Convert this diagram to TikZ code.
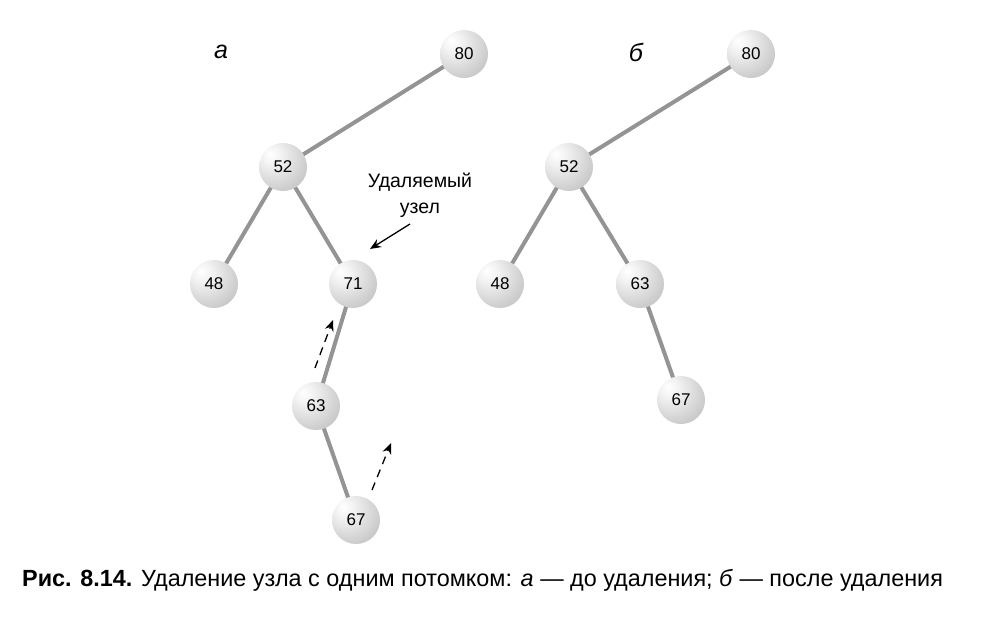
\documentclass[tikz,border=0pt]{standalone}
\usepackage{fontspec}
\setmainfont{Liberation Sans}
\usetikzlibrary{arrows.meta}
\pgfdeclarelayer{bg}
\pgfsetlayers{bg,main}
\pgfdeclareradialshading{sphere}{\pgfpoint{-14bp}{14bp}}{%
  color(0bp)=(white);
  color(10bp)=(white!95!black);
  color(36bp)=(white!78!black);
  color(58bp)=(white!58!black);
  color(80bp)=(white!50!black)}
\tikzset{
  vertex/.style={circle, minimum size=48pt, inner sep=0pt, shading=sphere,
    font=\fontsize{17}{17}\selectfont},
  branch/.style={line width=4pt, draw=black!42},
  pointer/.style={line width=1.3pt, -{Stealth[length=11pt,width=9pt]}},
  move/.style={pointer, dash pattern=on 8pt off 6pt},
  treelabel/.style={font=\fontsize{25}{25}\selectfont\itshape},
}
\begin{document}
\begin{tikzpicture}[x=1pt,y=-1pt]
\useasboundingbox (0,0) rectangle (986,619);

% tree before deletion
\node[treelabel] (la) at (221,52) {а};
\node[vertex] (a80) at (464,54) {80};
\node[vertex] (a52) at (283,167) {52};
\node[vertex] (a48) at (214,284) {48};
\node[vertex] (a71) at (353,284) {71};
\node[vertex] (a63) at (316,406) {63};
\node[vertex] (a67) at (356,520) {67};
\begin{pgfonlayer}{bg}
\draw[branch] (a80.center) -- (a52.center);
\draw[branch] (a52.center) -- (a48.center);
\draw[branch] (a52.center) -- (a71.center);
\draw[branch] (a71.center) -- (a63.center);
\draw[branch] (a63.center) -- (a67.center);
\end{pgfonlayer}

\node[font=\fontsize{19.5}{26}\selectfont, align=center] (note) at (420,195) {Удаляемый\\узел};
\coordinate (noteend) at (410,224);
\coordinate (notetip) at (370,249);
\draw[pointer] (noteend) -- (notetip);

\coordinate (m1s) at (315,368);
\coordinate (m1e) at (333,320);
\coordinate (m2s) at (372,490);
\coordinate (m2e) at (391,443);
\draw[move] (m1s) -- (m1e);
\draw[move] (m2s) -- (m2e);

% tree after deletion
\node[treelabel] (lb) at (636,52) {б};
\node[vertex] (b80) at (751,54) {80};
\node[vertex] (b52) at (569,167) {52};
\node[vertex] (b48) at (500,284) {48};
\node[vertex] (b63) at (640,284) {63};
\node[vertex] (b67) at (681,400) {67};
\begin{pgfonlayer}{bg}
\draw[branch] (b80.center) -- (b52.center);
\draw[branch] (b52.center) -- (b48.center);
\draw[branch] (b52.center) -- (b63.center);
\draw[branch] (b63.center) -- (b67.center);
\end{pgfonlayer}

\node[anchor=base west, inner sep=0pt, font=\fontsize{23.4}{24}\selectfont] (cap) at (22,586)
  {\textbf{Рис. 8.14.} Удаление узла с одним потомком: \textit{а} — до удаления; \textit{б} — после удаления};
\end{tikzpicture}
\end{document}
